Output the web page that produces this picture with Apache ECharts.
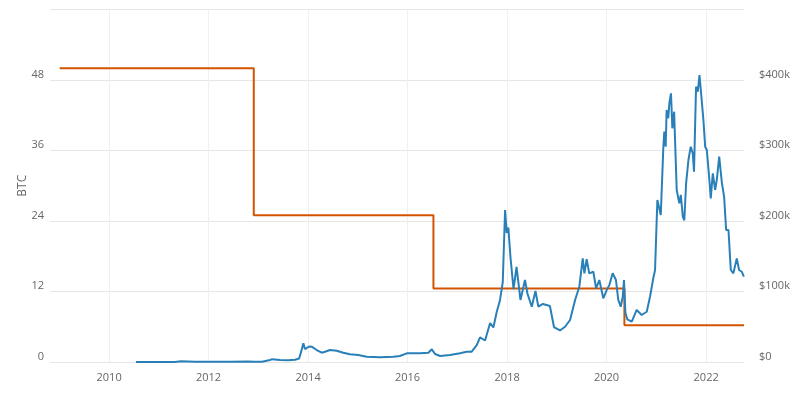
<!DOCTYPE html>
<html>
<head>
<meta charset="utf-8">
<script src="https://cdn.jsdelivr.net/npm/echarts@6/dist/echarts.min.js"></script>
<style>html,body{margin:0;padding:0;background:#fff;}#c{width:800px;height:400px;}</style>
</head>
<body>
<div id="c"></div>
<script>
// Block reward (BTC), step changes at halvings
var rewardDates = ['2009-01-03', '2012-11-28', '2016-07-09', '2020-05-11', '2022-10-06'];
var rewardBTC = [50, 25, 12.5, 6.25, 6.25];

// Block reward value in USD
var valueDates = ['2010-07-17','2010-10-28','2011-01-10','2011-04-28','2011-06-12','2011-06-26','2011-09-23','2012-01-11','2012-06-07','2012-10-17','2012-11-30','2013-01-28','2013-03-27','2013-04-12','2013-06-09','2013-08-07','2013-09-27','2013-10-27','2013-11-10','2013-11-27','2013-12-09','2013-12-21','2014-01-08','2014-01-27','2014-03-05','2014-04-11','2014-05-05','2014-06-11','2014-07-30','2014-09-16','2014-11-04','2015-01-04','2015-03-07','2015-06-13','2015-09-18','2015-11-06','2015-12-26','2016-04-02','2016-06-02','2016-06-27','2016-07-21','2016-08-27','2016-11-08','2017-01-20','2017-03-10','2017-04-16','2017-05-23','2017-06-16','2017-07-23','2017-08-29','2017-09-22','2017-10-17','2017-11-10','2017-11-30','2017-12-17','2017-12-29','2018-01-10','2018-01-26','2018-02-17','2018-03-11','2018-04-09','2018-05-12','2018-05-30','2018-07-01','2018-07-28','2018-08-18','2018-09-21','2018-11-11','2018-12-11','2019-01-24','2019-03-02','2019-04-08','2019-05-15','2019-06-15','2019-07-10','2019-07-22','2019-08-08','2019-08-27','2019-09-26','2019-10-16','2019-11-09','2019-12-08','2020-01-02','2020-01-21','2020-02-15','2020-03-10','2020-03-27','2020-04-14','2020-04-29','2020-05-08','2020-05-18','2020-06-01','2020-07-04','2020-08-09','2020-09-15','2020-10-22','2020-11-15','2020-12-09','2020-12-22','2021-01-08','2021-02-02','2021-02-21','2021-02-28','2021-03-10','2021-03-17','2021-03-29','2021-04-06','2021-04-18','2021-04-28','2021-05-11','2021-05-30','2021-06-18','2021-06-29','2021-07-14','2021-07-25','2021-08-07','2021-08-24','2021-09-10','2021-09-25','2021-10-04','2021-10-19','2021-11-01','2021-11-13','2021-11-23','2021-12-12','2021-12-25','2022-01-06','2022-01-25','2022-02-04','2022-02-19','2022-03-08','2022-03-20','2022-04-07','2022-04-27','2022-05-13','2022-05-28','2022-06-14','2022-07-01','2022-07-20','2022-08-14','2022-08-31','2022-09-20','2022-10-05'];
var valueUSD = [4,10,15,100,1100,800,300,300,300,550,300,450,2800,4000,2700,2600,3300,5000,14000,26500,18400,18000,22000,21700,17000,13200,14600,17000,16000,13200,10900,9900,7500,6700,7500,8500,12300,12300,13200,18000,11300,8500,9900,12300,14600,14600,24000,34800,30500,55300,49000,71300,88000,113500,215600,183000,190800,147500,103500,134800,88000,116300,97200,78400,100700,78700,82300,79400,49600,44700,50000,59600,88000,106800,147000,125800,145700,125800,128000,104500,116300,90400,102000,109000,125800,116300,88000,78400,92600,116300,70000,60600,57200,73800,66700,71300,92600,118700,130500,229800,208500,305400,326700,305400,357400,345700,367000,381000,331500,355000,244000,225000,237000,206000,201000,253500,286500,305400,296000,270000,390500,383400,407000,385800,343300,305400,300700,258000,232000,267700,244000,258000,291200,253500,234500,187200,187200,130500,125800,147000,130500,128000,121000];

var xTickYears = [2010, 2012, 2014, 2016, 2018, 2020, 2022];
var xMin = '2008-10-24', xMax = '2022-10-06';

function ts(d) { return Date.parse(d + 'T00:00:00Z'); }
var xTickValues = xTickYears.map(function(y){ return ts(y + '-01-01'); });

var chart = echarts.init(document.getElementById('c'), null, {renderer: 'canvas'});
var font = '"Open Sans", sans-serif';
var labelColor = '#666';

var option = {
  animation: false,
  backgroundColor: '#fff',
  grid: {left: 50, right: 56, top: 9.5, bottom: 38, containLabel: false},
  xAxis: {
    type: 'value',
    min: ts(xMin), max: ts(xMax),
    axisLine: {show: false},
    axisTick: {show: false, customValues: xTickValues},
    axisLabel: {
      customValues: xTickValues,
      formatter: function(v){ return String(new Date(v).getUTCFullYear()); },
      color: labelColor, fontFamily: font, fontSize: 11, margin: 10
    },
    splitLine: {show: true, lineStyle: {color: '#f0f0f0', width: 1}}
  },
  yAxis: [
    {
      type: 'value', min: 0, max: 60, interval: 12,
      name: 'BTC', nameLocation: 'middle', nameGap: 21, nameRotate: 90, nameMoveOverlap: false,
      nameTextStyle: {color: labelColor, fontFamily: font, fontSize: 12},
      axisLine: {show: false}, axisTick: {show: false},
      axisLabel: {showMaxLabel: false, color: labelColor, fontFamily: font, fontSize: 11, margin: 6, verticalAlign: 'bottom'},
      splitLine: {show: true, lineStyle: {color: '#e6e6e6', width: 1}}
    },
    {
      type: 'value', min: 0, max: 500000, interval: 100000,
      position: 'right',
      axisLine: {show: false}, axisTick: {show: false},
      axisLabel: {
        showMaxLabel: false, color: labelColor, fontFamily: font, fontSize: 11, margin: 15, verticalAlign: 'bottom',
        formatter: function(v){ return v === 0 ? '$0' : '$' + (v / 1000) + 'k'; }
      },
      splitLine: {show: false}
    }
  ],
  series: [
    {
      name: 'Block reward (BTC)', type: 'line', yAxisIndex: 0, step: 'end',
      showSymbol: false, symbol: 'none',
      lineStyle: {color: '#d35400', width: 2},
      data: rewardDates.map(function(d, i){ return [ts(d), rewardBTC[i]]; }),
      z: 2
    },
    {
      name: 'Block reward (USD)', type: 'line', yAxisIndex: 1,
      showSymbol: false, symbol: 'none',
      lineStyle: {color: '#2980b9', width: 2},
      data: valueDates.map(function(d, i){ return [ts(d), valueUSD[i]]; }),
      z: 3
    }
  ]
};
chart.setOption(option);
</script>
</body>
</html>
